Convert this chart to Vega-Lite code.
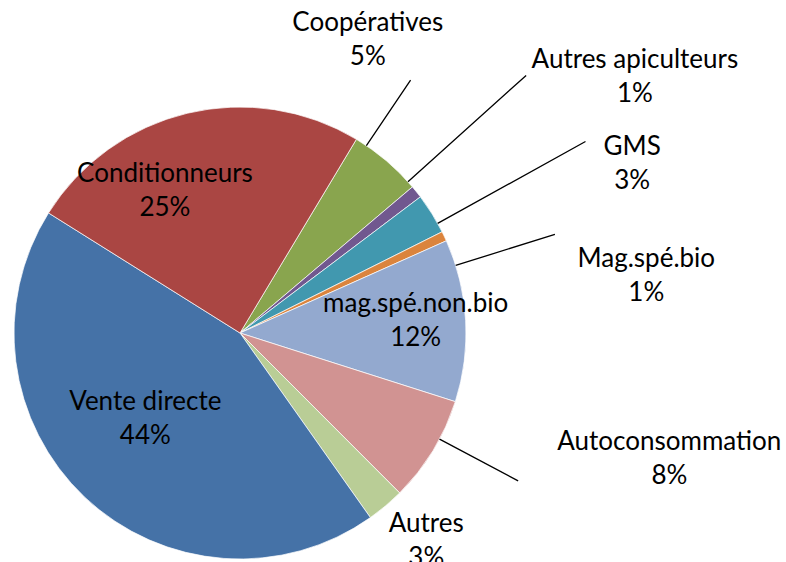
{
  "$schema": "https://vega.github.io/schema/vega-lite/v6.json",
  "width": 452,
  "height": 452,
  "autosize": "none",
  "padding": {"left": 14, "top": 107, "right": 320, "bottom": 3},
  "background": "white",
  "config": {
    "view": {"stroke": null},
    "text": {"font": "Lato", "fontSize": 26, "lineHeight": 34, "lineBreak": "\n", "align": "center", "baseline": "middle", "color": "black"}
  },
  "data": {
    "values": [
      {"ord": 1, "cat": "Coopératives", "value": 0.052, "label": "Coopératives\n5%"},
      {"ord": 2, "cat": "Autres apiculteurs", "value": 0.009, "label": "Autres apiculteurs\n1%"},
      {"ord": 3, "cat": "GMS", "value": 0.029, "label": "GMS\n3%"},
      {"ord": 4, "cat": "Mag.spé.bio", "value": 0.007, "label": "Mag.spé.bio\n1%"},
      {"ord": 5, "cat": "mag.spé.non.bio", "value": 0.116, "label": "mag.spé.non.bio\n12%"},
      {"ord": 6, "cat": "Autoconsommation", "value": 0.076, "label": "Autoconsommation\n8%"},
      {"ord": 7, "cat": "Autres", "value": 0.027, "label": "Autres\n3%"},
      {"ord": 8, "cat": "Vente directe", "value": 0.437, "label": "Vente directe\n44%"},
      {"ord": 9, "cat": "Conditionneurs", "value": 0.247, "label": "Conditionneurs\n25%"}
    ]
  },
  "transform": [
    {"stack": "value", "groupby": [], "sort": [{"field": "ord", "order": "ascending"}], "as": ["v0", "v1"]}
  ],
  "layer": [
    {
      "mark": {"type": "arc", "outerRadius": 226, "stroke": "white", "strokeWidth": 0.7},
      "encoding": {
        "theta": {"field": "v0", "type": "quantitative", "stack": null, "scale": {"domain": [0, 1], "range": [0.5411, 6.8243]}},
        "theta2": {"field": "v1"},
        "color": {
          "field": "cat", "type": "nominal", "legend": null,
          "scale": {
            "domain": ["Vente directe", "Conditionneurs", "Coopératives", "Autres apiculteurs", "GMS", "Mag.spé.bio", "mag.spé.non.bio", "Autoconsommation", "Autres"],
            "range": ["#4572A7", "#AA4643", "#89A54E", "#71588F", "#4198AF", "#DB843D", "#93A9CF", "#D19392", "#B9CD96"]
          }
        }
      }
    },
    {
      "transform": [{"filter": {"field": "cat", "equal": "Coopératives"}}],
      "mark": {"type": "arc", "innerRadius": 226, "outerRadius": 305, "thetaOffset": 0.0524, "theta2Offset": 0.0524, "stroke": "black", "strokeWidth": 1.3, "fillOpacity": 0},
      "encoding": {"theta": {"field": "v0", "type": "quantitative", "stack": null}, "theta2": {"field": "v0"}}
    },
    {
      "transform": [{"filter": {"field": "cat", "equal": "Autres apiculteurs"}}],
      "mark": {"type": "arc", "innerRadius": 226, "outerRadius": 385, "thetaOffset": -0.030, "theta2Offset": -0.030, "stroke": "black", "strokeWidth": 1.3, "fillOpacity": 0},
      "encoding": {"theta": {"field": "v0", "type": "quantitative", "stack": null}, "theta2": {"field": "v0"}}
    },
    {
      "transform": [{"filter": {"field": "cat", "equal": "GMS"}}],
      "mark": {"type": "arc", "innerRadius": 226, "outerRadius": 395, "thetaOffset": 0.1403, "theta2Offset": 0.1403, "stroke": "black", "strokeWidth": 1.3, "fillOpacity": 0},
      "encoding": {"theta": {"field": "v0", "type": "quantitative", "stack": null}, "theta2": {"field": "v0"}}
    },
    {
      "transform": [{"filter": {"field": "cat", "equal": "Mag.spé.bio"}}],
      "mark": {"type": "arc", "innerRadius": 226, "outerRadius": 330, "thetaOffset": 0.1606, "theta2Offset": 0.1606, "stroke": "black", "strokeWidth": 1.3, "fillOpacity": 0},
      "encoding": {"theta": {"field": "v0", "type": "quantitative", "stack": null}, "theta2": {"field": "v0"}}
    },
    {
      "transform": [{"filter": {"field": "cat", "equal": "Autoconsommation"}}],
      "mark": {"type": "arc", "innerRadius": 226, "outerRadius": 315, "thetaOffset": 0.1801, "theta2Offset": 0.1801, "stroke": "black", "strokeWidth": 1.3, "fillOpacity": 0},
      "encoding": {"theta": {"field": "v0", "type": "quantitative", "stack": null}, "theta2": {"field": "v0"}}
    },
    {
      "transform": [{"filter": {"field": "cat", "equal": "Coopératives"}}],
      "mark": {"type": "text", "radius": 335, "thetaOffset": -0.1496},
      "encoding": {"theta": {"field": "v0", "type": "quantitative", "stack": null}, "text": {"field": "label"}}
    },
    {
      "transform": [{"filter": {"field": "cat", "equal": "Autres apiculteurs"}}],
      "mark": {"type": "text", "radius": 480, "thetaOffset": 0.0983},
      "encoding": {"theta": {"field": "v0", "type": "quantitative", "stack": null}, "text": {"field": "label"}}
    },
    {
      "transform": [{"filter": {"field": "cat", "equal": "GMS"}}],
      "mark": {"type": "text", "radius": 434, "thetaOffset": 0.2035},
      "encoding": {"theta": {"field": "v0", "type": "quantitative", "stack": null}, "text": {"field": "label"}}
    },
    {
      "transform": [{"filter": {"field": "cat", "equal": "Mag.spé.bio"}}],
      "mark": {"type": "text", "radius": 413, "thetaOffset": 0.2840},
      "encoding": {"theta": {"field": "v0", "type": "quantitative", "stack": null}, "text": {"field": "label"}}
    },
    {
      "transform": [{"filter": {"field": "cat", "equal": "mag.spé.non.bio"}}],
      "mark": {"type": "text", "radius": 178, "thetaOffset": 0.2569},
      "encoding": {"theta": {"field": "v0", "type": "quantitative", "stack": null}, "text": {"field": "label"}}
    },
    {
      "transform": [{"filter": {"field": "cat", "equal": "Autoconsommation"}}],
      "mark": {"type": "text", "radius": 443, "thetaOffset": -0.0597},
      "encoding": {"theta": {"field": "v0", "type": "quantitative", "stack": null}, "text": {"field": "label"}}
    },
    {
      "transform": [{"filter": {"field": "cat", "equal": "Autres"}}],
      "mark": {"type": "text", "radius": 267, "thetaOffset": 0.0126},
      "encoding": {"theta": {"field": "v0", "type": "quantitative", "stack": null}, "text": {"field": "label"}}
    },
    {
      "transform": [{"filter": {"field": "cat", "equal": "Vente directe"}}],
      "mark": {"type": "text", "radius": 117, "thetaOffset": 1.5575},
      "encoding": {"theta": {"field": "v0", "type": "quantitative", "stack": null}, "text": {"field": "label"}}
    },
    {
      "transform": [{"filter": {"field": "cat", "equal": "Conditionneurs"}}],
      "mark": {"type": "text", "radius": 176, "thetaOffset": 0.5702},
      "encoding": {"theta": {"field": "v0", "type": "quantitative", "stack": null}, "text": {"field": "label"}}
    }
  ]
}
